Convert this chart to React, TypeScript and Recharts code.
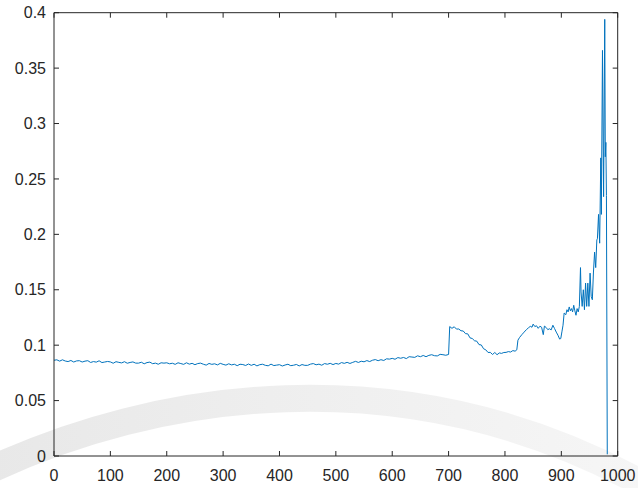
import { LineChart, Line, XAxis, YAxis, ReferenceLine } from "recharts";

// x = 0, 5, 10 ... 695 (flat part)
const flatY = [
  0.0864, 0.0868, 0.0856, 0.0868, 0.0857, 0.0852, 0.0862, 0.0848, 0.0858, 0.0860,
  0.0848, 0.0856, 0.0860, 0.0844, 0.0852, 0.0847, 0.0859, 0.0843, 0.0848, 0.0853,
  0.0849, 0.0837, 0.0851, 0.0845, 0.0840, 0.0851, 0.0837, 0.0844, 0.0849, 0.0838,
  0.0838, 0.0846, 0.0832, 0.0843, 0.0847, 0.0833, 0.0838, 0.0828, 0.0841, 0.0838,
  0.0841, 0.0832, 0.0837, 0.0827, 0.0841, 0.0834, 0.0827, 0.0841, 0.0829, 0.0836,
  0.0824, 0.0834, 0.0838, 0.0828, 0.0820, 0.0835, 0.0827, 0.0832, 0.0822, 0.0836,
  0.0827, 0.0820, 0.0832, 0.0822, 0.0828, 0.0815, 0.0828, 0.0825, 0.0817, 0.0830,
  0.0818, 0.0828, 0.0813, 0.0824, 0.0828, 0.0818, 0.0814, 0.0829, 0.0816, 0.0820,
  0.0824, 0.0812, 0.0821, 0.0828, 0.0815, 0.0819, 0.0826, 0.0813, 0.0825, 0.0818,
  0.0818, 0.0829, 0.0834, 0.0823, 0.0829, 0.0819, 0.0834, 0.0828, 0.0836, 0.0825,
  0.0835, 0.0829, 0.0843, 0.0836, 0.0845, 0.0835, 0.0845, 0.0854, 0.0844, 0.0855,
  0.0850, 0.0861, 0.0852, 0.0864, 0.0870, 0.0860, 0.0869, 0.0862, 0.0877, 0.0874,
  0.0881, 0.0873, 0.0888, 0.0882, 0.0889, 0.0879, 0.0896, 0.0893, 0.0890, 0.0904,
  0.0896, 0.0907, 0.0896, 0.0908, 0.0914, 0.0905, 0.0903, 0.0917, 0.0914, 0.0909,
];

// after the step at ~700 the points are irregular
const tailX = [
  700, 702, 706, 710, 714, 718, 722, 726, 730, 734, 738, 742, 746, 750, 754, 758,
  762, 766, 770, 774, 778, 782, 786, 790, 794, 798, 802, 806, 810, 814, 818, 821,
  823, 826, 830, 834, 838, 842, 845, 848, 850, 853, 856, 859, 862, 865, 868, 870,
  873, 876, 879, 882, 885, 888, 891, 894, 897, 899, 901, 903, 905, 908, 910, 912,
  914, 916, 918, 920, 922, 924, 926, 928, 930, 932, 934, 935, 937, 939, 941, 943,
  945, 947, 949, 951, 953, 955, 957, 959, 961, 963, 964, 966, 968, 970, 971, 973,
  975, 977, 978, 979, 980, 981.5,
];
const tailY = [
  0.0916, 0.1168, 0.1152, 0.1166, 0.1145, 0.1146, 0.1130, 0.1128, 0.1104, 0.1102, 0.1066, 0.1060, 0.1040, 0.1036, 0.1005, 0.1002,
  0.0968, 0.0958, 0.0934, 0.0935, 0.0916, 0.0934, 0.0914, 0.0930, 0.0926, 0.0934, 0.0935, 0.0942, 0.0938, 0.0951, 0.0946, 0.0958,
  0.1045, 0.1070, 0.1095, 0.1118, 0.1140, 0.1158, 0.1170, 0.1162, 0.1190, 0.1168, 0.1175, 0.1152, 0.1171, 0.1162, 0.1095, 0.1172,
  0.1160, 0.1140, 0.1148, 0.1138, 0.1180, 0.1150, 0.1118, 0.1090, 0.1055, 0.1060, 0.1120, 0.1180, 0.1290, 0.1275, 0.1320, 0.1300,
  0.1345, 0.1310, 0.1330, 0.1300, 0.1360, 0.1310, 0.1270, 0.1330, 0.1300, 0.1350, 0.1700, 0.1480, 0.1350, 0.1500, 0.1320, 0.1560,
  0.1350, 0.1560, 0.1350, 0.1650, 0.1440, 0.1410, 0.1660, 0.1840, 0.1700, 0.1950, 0.1960, 0.2180, 0.1920, 0.2690, 0.2180, 0.3660,
  0.2340, 0.3940, 0.2700, 0.2830, 0.2350, 0.0015,
];

const xTicks = [0, 100, 200, 300, 400, 500, 600, 700, 800, 900, 1000];
const yTicks = [0, 0.05, 0.1, 0.15, 0.2, 0.25, 0.3, 0.35, 0.4];

const data = [
  ...flatY.map((y, i) => ({ x: i * 5, y })),
  ...tailX.map((x, i) => ({ x, y: tailY[i] })),
];

const axisColor = "#262626";
const tickStyle = { fontSize: 16, fill: "#262626", fontFamily: "'Liberation Sans', Arial, sans-serif" };
const TICK_LEN = 5;

// MATLAB box: short tick marks pointing inwards at both ends of each gridline position
function VTicks(p: any) {
  const top = Math.min(p.y1, p.y2);
  const bot = Math.max(p.y1, p.y2);
  return (
    <g>
      <line x1={p.x1} x2={p.x1} y1={top} y2={top + TICK_LEN} stroke={axisColor} />
      <line x1={p.x1} x2={p.x1} y1={bot} y2={bot - TICK_LEN} stroke={axisColor} />
    </g>
  );
}

function HTicks(p: any) {
  const l = Math.min(p.x1, p.x2);
  const r = Math.max(p.x1, p.x2);
  return (
    <g>
      <line x1={l} x2={l + TICK_LEN} y1={p.y1} y2={p.y1} stroke={axisColor} />
      <line x1={r} x2={r - TICK_LEN} y1={p.y1} y2={p.y1} stroke={axisColor} />
    </g>
  );
}

export default function App() {
  return (
    <div style={{ position: "absolute", left: 0, top: 0, width: 638, height: 488, background: "#fff", overflow: "hidden" }}>
      {/* faint watermark arc from the source scan */}
      <svg width={638} height={488} style={{ position: "absolute", left: 0, top: 0 }}>
        <defs>
          <linearGradient id="wm" x1="0" y1="0" x2="1" y2="0">
            <stop offset="0%" stopColor="#e8e8e8" />
            <stop offset="50%" stopColor="#efefef" />
            <stop offset="100%" stopColor="#f6f6f6" />
          </linearGradient>
        </defs>
        <path d="M -10 470 C 150 395 400 350 645 485" stroke="url(#wm)" strokeWidth={27} fill="none" />
      </svg>
      <div style={{ position: "absolute", left: 0, top: 0 }}>
        <LineChart width={638} height={488} data={data} margin={{ top: 12.7, right: 20.3, bottom: 0, left: 0 }}>
          <XAxis
            dataKey="x" type="number" domain={[0, 1000]} ticks={xTicks} height={32}
            tick={tickStyle} tickLine={false} tickSize={0} tickMargin={14}
            stroke={axisColor} allowDataOverflow
          />
          <YAxis
            type="number" domain={[0, 0.4]} ticks={yTicks} width={54}
            tick={tickStyle} tickLine={false} tickSize={0} tickMargin={8}
            stroke={axisColor} allowDataOverflow
          />
          <ReferenceLine y={0.4} stroke={axisColor} />
          <ReferenceLine x={1000} stroke={axisColor} />
          {xTicks.map((t) => (
            <ReferenceLine key={"x" + t} x={t} shape={VTicks} />
          ))}
          {yTicks.map((t) => (
            <ReferenceLine key={"y" + t} y={t} shape={HTicks} />
          ))}
          <Line type="linear" dataKey="y" stroke="#0072BD" strokeWidth={1} dot={false} isAnimationActive={false} />
        </LineChart>
      </div>
    </div>
  );
}
